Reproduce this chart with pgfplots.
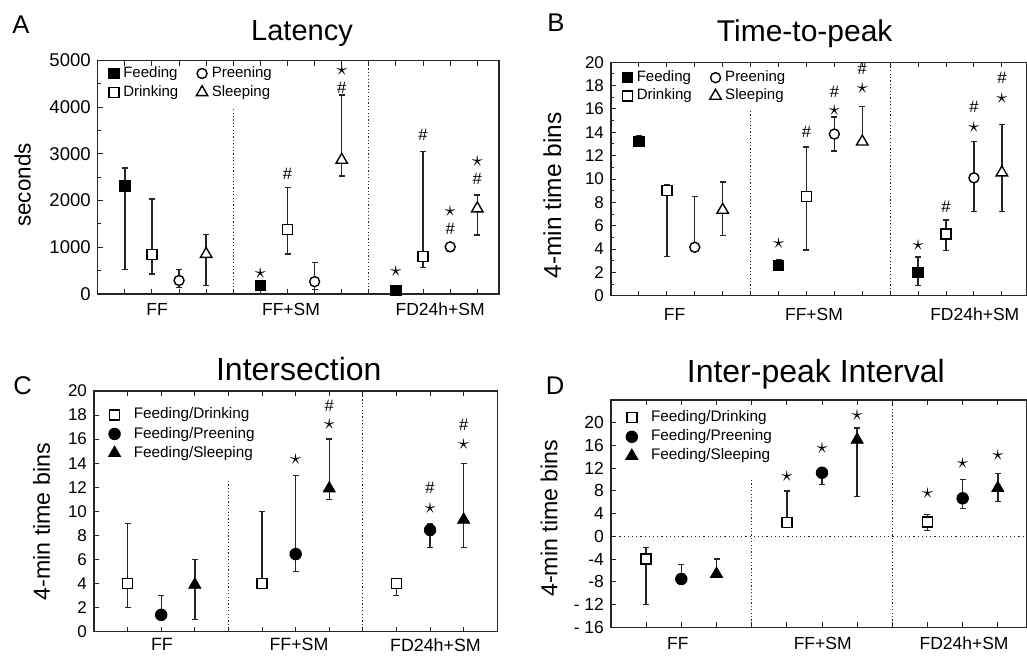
\documentclass[border=0pt]{standalone}
\usepackage{fontspec}
\setmainfont{Liberation Sans}
\usepackage{pgfplots}
\pgfplotsset{compat=1.18}

\newcommand\fs[1]{\fontsize{#1}{#1}\selectfont}
% significance marks, placed in axis units
\newcommand\st[2]{\node[font=\fs{10.5}, inner sep=0pt] at (axis cs:#1,#2) {$\star$};}
\newcommand\hs[2]{\node[font=\fs{8.3}, inner sep=0pt] at (axis cs:#1,#2) {\#};}

\tikzset{divider/.style={black!85, line width=0.6pt, dash pattern=on 0.6pt off 1.1pt}}
\pgfplotsset{
  panel/.style={
    scale only axis, clip=false,
    axis line style={line width=0.65pt, black!85},
    tick align=inside,
    tick style={line width=0.5pt, black!85},
    major tick length=2.5pt, minor tick length=1.5pt,
    xticklabels={}, ytick pos=left,
    every axis plot/.append style={only marks, black,
      error bars/y dir=both, error bars/y explicit,
      error bars/error bar style={line width=0.7pt, black!85},
      error bars/error mark=|,
      error bars/error mark options={mark size=1.5pt, line width=0.7pt, black!85}},
    legend style={draw=none, fill=none, anchor=north west},
    legend cell align=left,
  },
  mFeed/.style={mark=square*, mark size=2.6pt, mark options={fill=black, draw=black, line width=0.5pt}},
  mDrink/.style={mark=square*, mark size=2.5pt, mark options={fill=white, draw=black, line width=0.7pt}},
  mPreen/.style={mark=*, mark size=2.5pt, mark options={fill=white, draw=black, line width=0.7pt}},
  mSleep/.style={mark=triangle*, mark size=3.3pt, mark options={fill=white, draw=black, line width=0.7pt}},
  mFP/.style={mark=*, mark size=2.9pt, mark options={fill=black, draw=black}},
  mFS/.style={mark=triangle*, mark size=3.5pt, mark options={fill=black, draw=black}},
  smallleg/.style={legend image code/.code={\draw[##1] plot coordinates {(0.08cm,0cm)}; \path (0cm,0cm) (0.1cm,0cm);}},
  wideleg/.style={legend image code/.code={\draw[##1] plot coordinates {(0.1cm,0cm)}; \path (0cm,0cm) (0.36cm,0cm);}},
}

\begin{document}
\begin{tikzpicture}
\useasboundingbox (0,0) rectangle (513.5pt,-329.5pt);

% panel letters and titles
\node[font=\fs{12.8}, anchor=base] at (10.5pt,-16.65pt) {A};
\node[font=\fs{12.8}, anchor=base] at (278pt,-15.85pt) {B};
\node[font=\fs{12.8}, anchor=base] at (11.25pt,-197pt) {C};
\node[font=\fs{12.8}, anchor=base] at (277.5pt,-197pt) {D};
\node[font=\fs{14.5}, anchor=base] at (151pt,-20.35pt) {Latency};
\node[font=\fs{15}, anchor=base] at (402.35pt,-20.85pt) {Time-to-peak};
\node[font=\fs{16}, anchor=base] at (149.4pt,-190pt) {Intersection};
\node[font=\fs{16}, anchor=base] at (407.9pt,-191.35pt) {Inter-peak Interval};

% ---------------- A: Latency ----------------
\begin{axis}[panel, at={(48.85pt,-30.25pt)}, anchor=north west,
  width=200.65pt, height=116.75pt,
  xmin=0, xmax=14.8, ymin=0, ymax=5000,
  xtick={1,...,14},
  ytick={0,1000,2000,3000,4000,5000}, yticklabels={0,1000,2000,3000,4000,5000},
  minor ytick={500,1500,2500,3500,4500},
  yticklabel style={font=\fs{9.25}},
  ylabel={seconds}, ylabel style={font=\fs{11.2}, at={(axis description cs:-0.187,0.467)}, anchor=center},
  legend columns=2, transpose legend, smallleg,
  legend style={at={(axis description cs:0.012,1.01)}, font=\fs{7.5},
    /tikz/every even column/.append style={column sep=7pt}, row sep=-1.5pt},
  legend entries={Feeding,Drinking,Preening,Sleeping},
]
\addplot[mFeed] coordinates {
  (1,2310) += (0,390) -= (0,1780)
  (6,180)  += (0,0)   -= (0,0)
  (11,80)  += (0,0)   -= (0,0)
};
\addplot[mDrink] coordinates {
  (2,850)  += (0,1180) -= (0,420)
  (7,1380) += (0,900)  -= (0,525)
  (12,805) += (0,2240) -= (0,235)
};
\addplot[mPreen] coordinates {
  (3,290)   += (0,240) -= (0,155)
  (8,265)   += (0,415) -= (0,165)
  (13,1010) += (0,70)  -= (0,105)
};
\addplot[mSleep] coordinates {
  (4,855)   += (0,425)  -= (0,675)
  (9,2870)  += (0,1390) -= (0,340)
  (14,1830) += (0,290)  -= (0,570)
};
\draw[divider] (axis cs:5,0) -- (axis cs:5,4000);
\draw[divider] (axis cs:10,0) -- (axis cs:10,5000);
\st{6}{442} \st{9}{4793} \st{11}{492} \st{13}{1762} \st{14}{2832}
\hs{7}{2568} \hs{9}{4422} \hs{12}{3402} \hs{13}{1405} \hs{14}{2461}
\node[font=\fs{8.75}, yshift=-7.5pt] at (axis cs:2.19,0) {FF};
\node[font=\fs{8.75}, yshift=-7.5pt] at (axis cs:7.13,0) {FF+SM};
\node[font=\fs{8.75}, yshift=-7.5pt] at (axis cs:12.63,0) {FD24h+SM};
\end{axis}

% ---------------- B: Time-to-peak ----------------
\begin{axis}[panel, at={(305.5pt,-31.15pt)}, anchor=north west,
  width=208pt, height=116.7pt,
  xmin=0, xmax=14.9, ymin=0, ymax=20,
  xtick={1,...,14}, xtick pos=both,
  ytick={0,2,...,20}, yticklabels={0,2,4,6,8,10,12,14,16,18,20},
  minor y tick num=1,
  yticklabel style={font=\fs{8.5}},
  ylabel={4-min time bins}, ylabel style={font=\fs{12.25}, at={(axis description cs:-0.141,0.43)}, anchor=center},
  legend columns=2, transpose legend, smallleg,
  legend style={at={(axis description cs:0.012,1.0)}, font=\fs{7.5},
    /tikz/every even column/.append style={column sep=7pt}, row sep=-1.8pt},
  legend entries={Feeding,Drinking,Preening,Sleeping},
]
\addplot[mFeed] coordinates {
  (1,13.2) += (0,0.5)  -= (0,0.3)
  (6,2.6)  += (0,0.45) -= (0,0.45)
  (11,2.0) += (0,1.3)  -= (0,1.15)
};
\addplot[mDrink] coordinates {
  (2,9.0)  += (0,0.55) -= (0,5.65)
  (7,8.5)  += (0,4.25) -= (0,4.6)
  (12,5.3) += (0,1.2)  -= (0,1.45)
};
\addplot[mPreen] coordinates {
  (3,4.15)  += (0,4.35) -= (0,0)
  (8,13.85) += (0,1.45) -= (0,1.45)
  (13,10.1) += (0,3.1)  -= (0,2.9)
};
\addplot[mSleep] coordinates {
  (4,7.35)   += (0,2.4) -= (0,2.2)
  (9,13.2)   += (0,3.0) -= (0,0)
  (14,10.55) += (0,4.1) -= (0,3.35)
};
\draw[divider] (axis cs:5,0) -- (axis cs:5,15.8);
\draw[divider] (axis cs:10,0) -- (axis cs:10,20);
\st{6}{4.5} \st{8}{15.85} \st{9}{17.75} \st{11}{4.29} \st{13}{14.4} \st{14}{16.9}
\hs{7}{14.06} \hs{8}{17.5} \hs{9}{19.4} \hs{12}{7.6} \hs{13}{16.15} \hs{14}{18.7}
\node[font=\fs{8.75}, yshift=-9.5pt] at (axis cs:2.28,0) {FF};
\node[font=\fs{8.75}, yshift=-9.5pt] at (axis cs:7.27,0) {FF+SM};
\node[font=\fs{8.75}, yshift=-9.5pt] at (axis cs:13.03,0) {FD24h+SM};
\end{axis}

% ---------------- C: Intersection ----------------
\begin{axis}[panel, at={(47pt,-195.5pt)}, anchor=north west,
  width=201.65pt, height=120.35pt,
  xmin=0, xmax=12, ymin=0, ymax=20,
  xtick={1,...,11}, xtick pos=both,
  ytick={0,2,...,20}, yticklabels={0,2,4,6,8,10,12,14,16,18,20},
  yticklabel style={font=\fs{8.5}},
  ylabel={4-min time bins}, ylabel style={font=\fs{11.6}, at={(axis description cs:-0.130,0.457)}, anchor=center},
  wideleg,
  legend style={at={(axis description cs:0.02,0.965)}, font=\fs{7.65}, row sep=-1.5pt},
  legend entries={Feeding/Drinking,Feeding/Preening,Feeding/Sleeping},
]
\addplot[mDrink] coordinates {
  (1,4) += (0,5) -= (0,2)
  (5,4) += (0,6) -= (0,0)
  (9,4) += (0,0) -= (0,1)
};
\addplot[mFP] coordinates {
  (2,1.4)   += (0,1.6)  -= (0,0)
  (6,6.45)  += (0,6.55) -= (0,1.45)
  (10,8.45) += (0,0.5)  -= (0,1.45)
};
\addplot[mFS] coordinates {
  (3,3.9)  += (0,2.1) -= (0,2.9)
  (7,11.9) += (0,4.1) -= (0,0.9)
  (11,9.3) += (0,4.7) -= (0,2.3)
};
\draw[divider] (axis cs:4,0) -- (axis cs:4,12.6);
\draw[divider] (axis cs:8,0) -- (axis cs:8,20);
\st{6}{14.35} \st{7}{17.2} \st{10}{10.25} \st{11}{15.6}
\hs{7}{18.75} \hs{10}{11.95} \hs{11}{17.2}
\node[font=\fs{8.9}, yshift=-6.5pt] at (axis cs:2.02,0) {FF};
\node[font=\fs{8.9}, yshift=-6.5pt] at (axis cs:6.1,0) {FF+SM};
\node[font=\fs{8.9}, yshift=-6.5pt] at (axis cs:10.16,0) {FD24h+SM};
\end{axis}

% ---------------- D: Inter-peak Interval ----------------
\begin{axis}[panel, at={(305.5pt,-200pt)}, anchor=north west,
  width=208pt, height=113.65pt,
  xmin=0, xmax=11.83, ymin=-16, ymax=24,
  xtick={1,...,11},
  ytick={-16,-12,...,20}, yticklabels={- 16,- 12,-8,-4,0,4,8,12,16,20},
  yticklabel style={font=\fs{8.75}},
  ylabel={4-min time bins}, ylabel style={font=\fs{11.6}, at={(axis description cs:-0.149,0.48)}, anchor=center},
  wideleg,
  legend style={at={(axis description cs:0.02,0.99)}, font=\fs{7.65}, row sep=-1.5pt},
  legend entries={Feeding/Drinking,Feeding/Preening,Feeding/Sleeping},
]
\addplot[mDrink] coordinates {
  (1,-4)  += (0,2)   -= (0,8)
  (5,2.4) += (0,5.6) -= (0,0)
  (9,2.5) += (0,1.4) -= (0,1.5)
};
\addplot[mFP] coordinates {
  (2,-7.5) += (0,2.5) -= (0,0)
  (6,11.2) += (0,0.7) -= (0,2.1)
  (10,6.7) += (0,3.3) -= (0,1.8)
};
\addplot[mFS] coordinates {
  (3,-6.6) += (0,2.6) -= (0,0)
  (7,17)   += (0,2.1) -= (0,10)
  (11,8.5) += (0,2.6) -= (0,2.4)
};
\draw[divider] (axis cs:4,-16) -- (axis cs:4,10);
\draw[divider] (axis cs:8,-16) -- (axis cs:8,24);
\draw[black!85, line width=0.7pt, dash pattern=on 0.6pt off 1.5pt] (axis cs:0,0) -- (axis cs:11.83,0);
\st{5}{10.6} \st{6}{15.5} \st{7}{21.3} \st{9}{7.6} \st{10}{12.8} \st{11}{14.2}
\node[font=\fs{8.75}, yshift=-8pt] at (axis cs:1.9,-16) {FF};
\node[font=\fs{8.75}, yshift=-8pt] at (axis cs:6.02,-16) {FF+SM};
\node[font=\fs{8.75}, yshift=-8pt] at (axis cs:10.04,-16) {FD24h+SM};
\end{axis}
\end{tikzpicture}
\end{document}
